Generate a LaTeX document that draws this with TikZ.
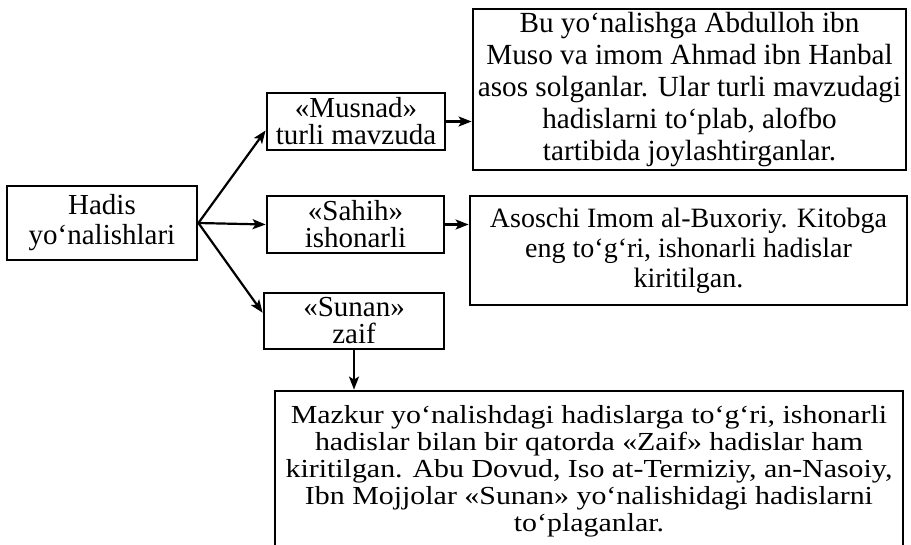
\documentclass[tikz,border=0pt]{standalone}
\usepackage{fontspec}
\setmainfont{Liberation Serif}
\newfontfamily\widefont{Liberation Serif}[FakeStretch=1.15]
\usetikzlibrary{arrows.meta,calc}

\tikzset{
  blok/.style={draw, line width=1.4pt, align=center, inner sep=0pt},
  strel/.style={-{Stealth[length=6.5pt,width=5pt,inset=1.5pt]}, line width=1.1pt},
}

\begin{document}
\begin{tikzpicture}[x=0.5pt,y=-0.5pt]
\useasboundingbox (0,0) rectangle (911,545);
%\draw[help lines,step=50] (0,0) grid (911,545);
\node[blok, minimum width=95pt, minimum height=37pt, font=\fontsize{14.5}{15}\selectfont] (hadis) at (102,223) {Hadis\\yo‘nalishlari};
\node[blok, minimum width=89pt, minimum height=28.5pt, font=\fontsize{14.5}{13.5}\selectfont] (musnad) at (356,121.5) {«Musnad»\\turli mavzuda};
\node[blok, minimum width=88.5pt, minimum height=28.5pt, font=\fontsize{14.5}{13.5}\selectfont] (sahih) at (355.5,224.5) {«Sahih»\\ishonarli};
\node[blok, minimum width=90pt, minimum height=28pt, font=\fontsize{14.5}{13.5}\selectfont] (sunan) at (354,321) {«Sunan»\\zaif};
\node[blok, minimum width=216.5pt, minimum height=80.5pt, font=\fontsize{14.6}{16}\selectfont] (musnadmatn) at (689.5,89.5) {Bu yo‘nalishga Abdulloh ibn\\Muso va imom Ahmad ibn Hanbal\\asos solganlar. Ular turli mavzudagi\\hadislarni to‘plab, alofbo\\tartibida joylashtirganlar.};
\node[blok, minimum width=218.5pt, minimum height=54.5pt, font=\fontsize{14}{15}\selectfont] (sahihmatn) at (688.5,250.5) {Asoschi Imom al-Buxoriy. Kitobga\\eng to‘g‘ri, ishonarli hadislar\\kiritilgan.};
\node[blok, minimum width=314pt, minimum height=80pt, font=\widefont\fontsize{13}{13.5}\selectfont] (sunanmatn) at (589,471) {Mazkur yo‘nalishdagi hadislarga to‘g‘ri, ishonarli\\hadislar bilan bir qatorda «Zaif» hadislar ham\\kiritilgan. Abu Dovud, Iso at-Termiziy, an-Nasoiy,\\Ibn Mojjolar «Sunan» yo‘nalishidagi hadislarni\\to‘plaganlar.};
\draw[strel] (hadis.east) -- ($(musnad.south west)!0.35!(musnad.north west)$);
\draw[strel] (hadis.east) -- (sahih.west);
\draw[strel] (hadis.east) -- ($(sunan.north west)!0.36!(sunan.south west)$);
\draw[strel] (musnad.east) -- (musnad.east -| musnadmatn.west);
\draw[strel] (sahih.east) -- (sahih.east -| sahihmatn.west);
\draw[strel] (sunan.south) -- (sunan.south |- sunanmatn.north);
\end{tikzpicture}
\end{document}
